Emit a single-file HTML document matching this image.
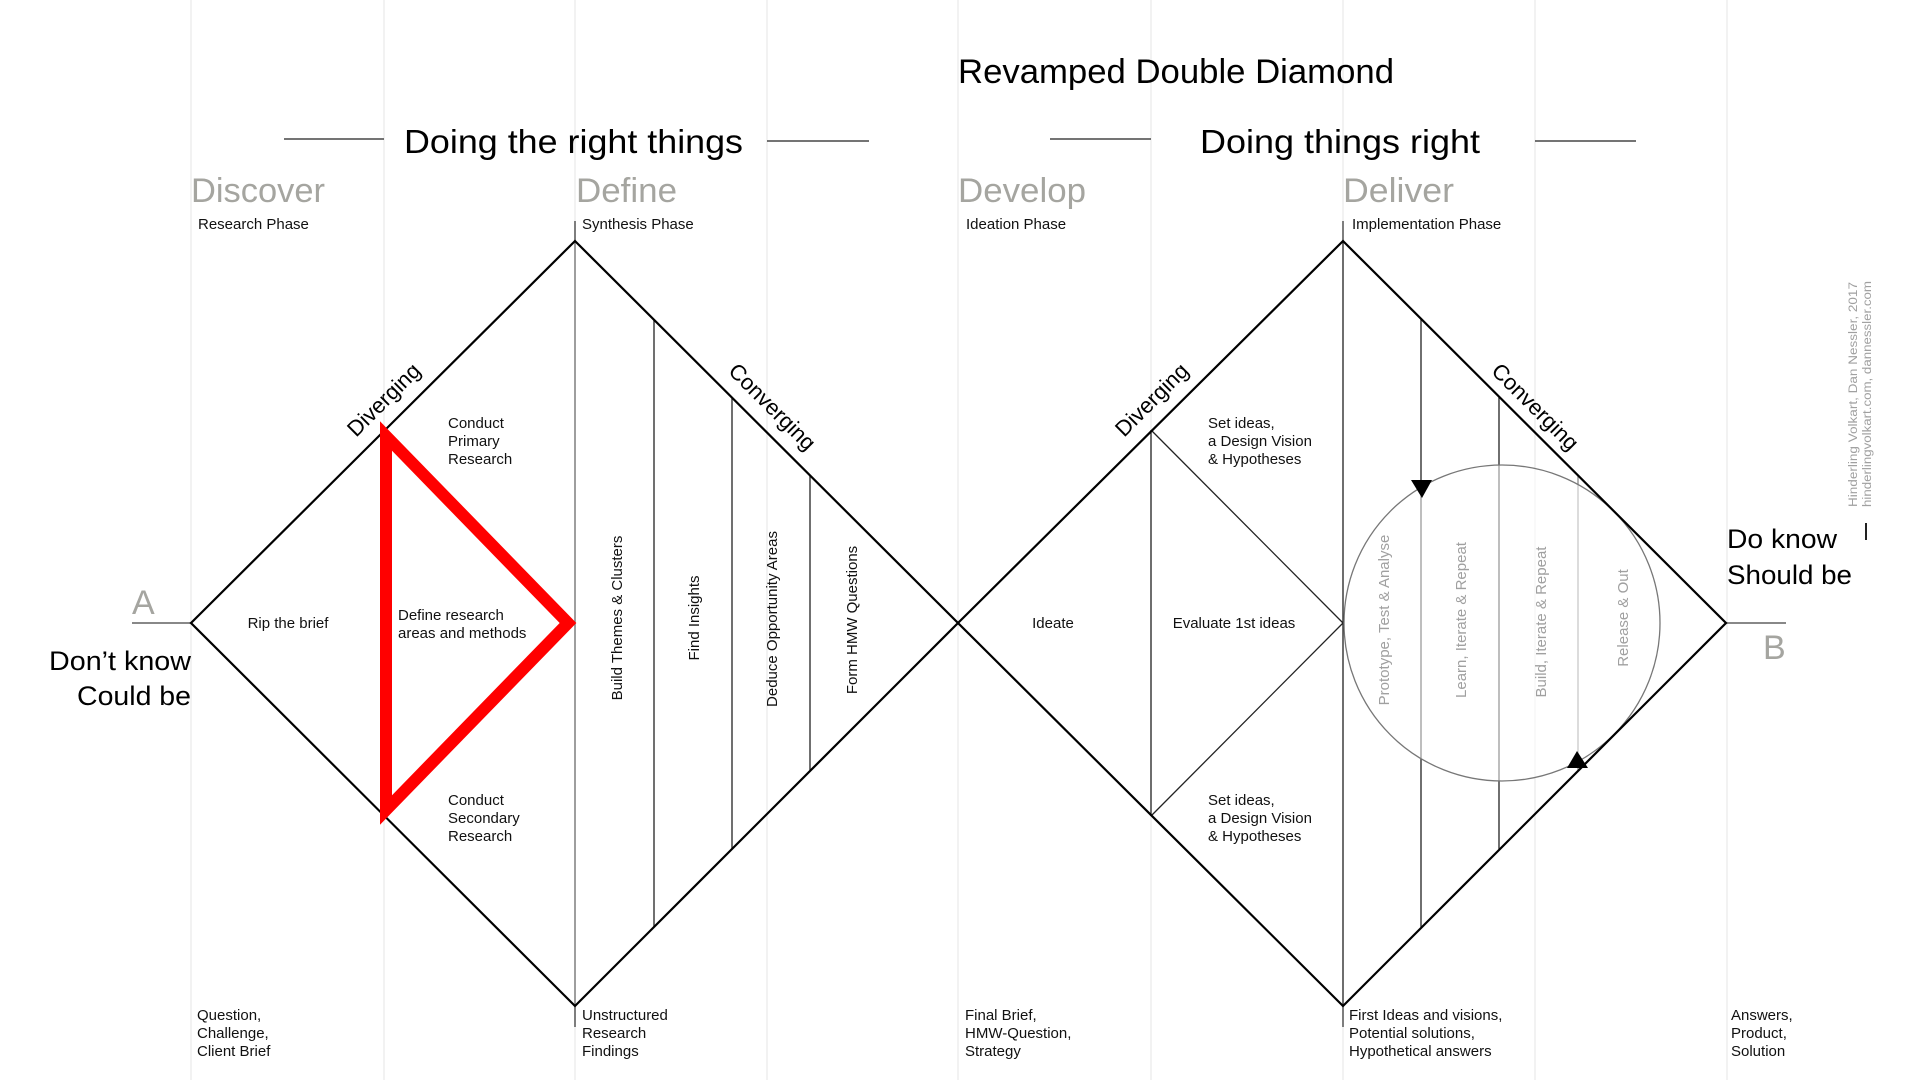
<!DOCTYPE html>
<html><head><meta charset="utf-8"><style>
html,body{margin:0;padding:0;background:#fff;}
svg{display:block;font-family:"Liberation Sans",Arial,sans-serif;}
</style></head><body>
<svg width="1920" height="1080" viewBox="0 0 1920 1080" xmlns="http://www.w3.org/2000/svg">
<rect width="1920" height="1080" fill="#fff"/>
<g stroke="#e8e8e8" stroke-width="1.2">
<line x1="191" y1="0" x2="191" y2="1080"/><line x1="384" y1="0" x2="384" y2="1080"/>
<line x1="575" y1="0" x2="575" y2="1080"/><line x1="767" y1="0" x2="767" y2="1080"/>
<line x1="958" y1="0" x2="958" y2="1080"/><line x1="1151" y1="0" x2="1151" y2="1080"/>
<line x1="1343" y1="0" x2="1343" y2="1080"/><line x1="1535" y1="0" x2="1535" y2="1080"/>
<line x1="1727" y1="0" x2="1727" y2="1080"/>
</g>
<text x="958" y="83" font-size="34" textLength="436" lengthAdjust="spacingAndGlyphs">Revamped Double Diamond</text>
<text x="404" y="153" font-size="33" textLength="339" lengthAdjust="spacingAndGlyphs">Doing the right things</text>
<text x="1200" y="153" font-size="33" textLength="280" lengthAdjust="spacingAndGlyphs">Doing things right</text>
<g stroke="#222" stroke-width="1.3">
<line x1="284" y1="139" x2="384" y2="139"/><line x1="767" y1="141" x2="869" y2="141"/>
<line x1="1050" y1="139" x2="1151" y2="139"/><line x1="1535" y1="141" x2="1636" y2="141"/>
</g>
<g fill="#a5a5a0" font-size="34">
<text x="191" y="202" textLength="134" lengthAdjust="spacingAndGlyphs">Discover</text>
<text x="576" y="202" textLength="101" lengthAdjust="spacingAndGlyphs">Define</text>
<text x="958" y="202" textLength="128" lengthAdjust="spacingAndGlyphs">Develop</text>
<text x="1343" y="202" textLength="111" lengthAdjust="spacingAndGlyphs">Deliver</text>
</g>
<g font-size="15" fill="#111">
<text x="198" y="229">Research Phase</text>
<text x="582" y="229">Synthesis Phase</text>
<text x="966" y="229">Ideation Phase</text>
<text x="1352" y="229">Implementation Phase</text>
<text x="197" y="1020">Question,</text><text x="197" y="1038">Challenge,</text><text x="197" y="1056">Client Brief</text>
<text x="582" y="1020">Unstructured</text><text x="582" y="1038">Research</text><text x="582" y="1056">Findings</text>
<text x="965" y="1020">Final Brief,</text><text x="965" y="1038">HMW-Question,</text><text x="965" y="1056">Strategy</text>
<text x="1349" y="1020">First Ideas and visions,</text><text x="1349" y="1038">Potential solutions,</text><text x="1349" y="1056">Hypothetical answers</text>
<text x="1731" y="1020">Answers,</text><text x="1731" y="1038">Product,</text><text x="1731" y="1056">Solution</text>
</g>
<g stroke="#555" stroke-width="1.5">
<line x1="575" y1="221" x2="575" y2="241"/><line x1="575" y1="1006" x2="575" y2="1027"/>
<line x1="1343" y1="221" x2="1343" y2="241"/><line x1="1343" y1="1006" x2="1343" y2="1027"/>
</g>
<text x="132" y="614" font-size="34" fill="#a5a5a0">A</text>
<line x1="132" y1="623" x2="191" y2="623" stroke="#888" stroke-width="2"/>
<text x="49" y="670" font-size="27" textLength="142" lengthAdjust="spacingAndGlyphs">Don’t know</text>
<text x="77" y="705" font-size="27" textLength="114" lengthAdjust="spacingAndGlyphs">Could be</text>
<text x="1763" y="659" font-size="34" fill="#a5a5a0">B</text>
<line x1="1726" y1="623" x2="1786" y2="623" stroke="#888" stroke-width="2"/>
<text x="1727" y="548" font-size="27" textLength="110" lengthAdjust="spacingAndGlyphs">Do know</text>
<text x="1727" y="584" font-size="27" textLength="125" lengthAdjust="spacingAndGlyphs">Should be</text>
<line x1="1866" y1="523" x2="1866" y2="540" stroke="#222" stroke-width="2"/>
<g fill="#a0a0a0" font-size="11.5">
<text transform="translate(1857,507) rotate(-90)" textLength="225" lengthAdjust="spacingAndGlyphs">Hinderling Volkart, Dan Nessler, 2017</text>
<text transform="translate(1871,507) rotate(-90)" textLength="226" lengthAdjust="spacingAndGlyphs">hinderlingvolkart.com, dannessler.com</text>
</g>
<g stroke="#333" stroke-width="1.4">
<line x1="575" y1="241" x2="575" y2="1006" stroke="#777"/>
<line x1="654" y1="320" x2="654" y2="927"/>
<line x1="732" y1="398" x2="732" y2="849"/>
<line x1="810" y1="476" x2="810" y2="770"/>
</g>
<g stroke="#222" stroke-width="1.3">
<line x1="1151" y1="430" x2="1151" y2="816"/>
<line x1="1151" y1="430" x2="1343" y2="623"/>
<line x1="1343" y1="623" x2="1151" y2="816"/>
<line x1="1343" y1="241" x2="1343" y2="1006"/>
<line x1="1421" y1="319" x2="1421" y2="927"/>
<line x1="1499" y1="397" x2="1499" y2="849"/>
<line x1="1578" y1="476" x2="1578" y2="770" stroke="#888"/>
</g>
<circle cx="1502" cy="623" r="158" fill="#fff" fill-opacity="0.55" stroke="#777" stroke-width="1.3"/>
<polygon points="1411,480 1432,480 1422,498" fill="#000"/>
<polygon points="1567,768 1588,768 1577,751" fill="#000"/>
<g fill="none" stroke="#000" stroke-width="2.2">
<polygon points="191,623 575,241 958,623 575,1006"/>
<polygon points="958,623 1343,241 1726,623 1343,1006"/>
</g>
<polygon points="386,436 568,623 386,810" fill="none" stroke="#ff0000" stroke-width="12" stroke-linejoin="miter"/>
<g font-size="22">
<text transform="translate(389,405) rotate(-45)" text-anchor="middle">Diverging</text>
<text transform="translate(1157,405) rotate(-45)" text-anchor="middle">Diverging</text>
<text transform="translate(767,412) rotate(45)" text-anchor="middle">Converging</text>
<text transform="translate(1530,412) rotate(45)" text-anchor="middle">Converging</text>
</g>
<g font-size="15" fill="#111">
<text x="288" y="628" text-anchor="middle">Rip the brief</text>
<text x="448" y="428">Conduct</text><text x="448" y="446">Primary</text><text x="448" y="464">Research</text>
<text x="398" y="620">Define research</text><text x="398" y="638">areas and methods</text>
<text x="448" y="805">Conduct</text><text x="448" y="823">Secondary</text><text x="448" y="841">Research</text>
<text transform="translate(622,618) rotate(-90)" text-anchor="middle">Build Themes &amp; Clusters</text>
<text transform="translate(699,618) rotate(-90)" text-anchor="middle">Find Insights</text>
<text transform="translate(777,619) rotate(-90)" text-anchor="middle">Deduce Opportunity Areas</text>
<text transform="translate(857,620) rotate(-90)" text-anchor="middle">Form HMW Questions</text>
<text x="1053" y="628" text-anchor="middle">Ideate</text>
<text x="1234" y="628" text-anchor="middle">Evaluate 1st ideas</text>
<text x="1208" y="428">Set ideas,</text><text x="1208" y="446">a Design Vision</text><text x="1208" y="464">&amp; Hypotheses</text>
<text x="1208" y="805">Set ideas,</text><text x="1208" y="823">a Design Vision</text><text x="1208" y="841">&amp; Hypotheses</text>
</g>
<g font-size="15" fill="#a0a0a0">
<text transform="translate(1389,620) rotate(-90)" text-anchor="middle">Prototype, Test &amp; Analyse</text>
<text transform="translate(1466,620) rotate(-90)" text-anchor="middle">Learn, Iterate &amp; Repeat</text>
<text transform="translate(1546,622) rotate(-90)" text-anchor="middle">Build, Iterate &amp; Repeat</text>
<text transform="translate(1628,618) rotate(-90)" text-anchor="middle">Release &amp; Out</text>
</g>
</svg>
</body></html>
